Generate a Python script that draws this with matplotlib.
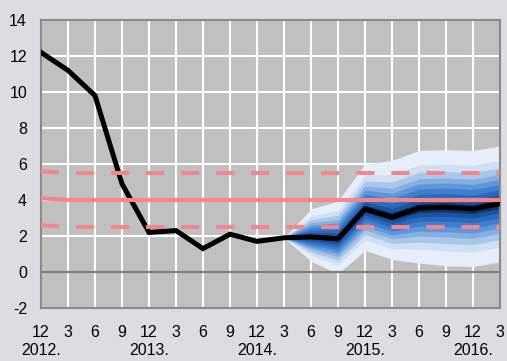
import matplotlib
matplotlib.use('Agg')
import matplotlib.pyplot as plt
import numpy as np

plt.rcParams['font.family'] = ['Liberation Sans', 'DejaVu Sans']
plt.rcParams['axes.unicode_minus'] = False

# ---- data ----
months = ['12', '3', '6', '9', '12', '3', '6', '9', '12', '3', '6', '9',
          '12', '3', '6', '9', '12', '3']
year_labels = {0: '2012.', 4: '2013.', 8: '2014.', 12: '2015.', 16: '2016.'}

inflation = [12.2, 11.2, 9.8, 4.9, 2.2, 2.3, 1.3, 2.1, 1.7,
             1.9, 1.95, 1.85, 3.5, 3.05, 3.55, 3.6, 3.5, 3.8]

target = [4.1, 4.0, 4.0, 4.0, 4.0, 4.0, 4.0, 4.0, 4.0,
          4.0, 4.0, 4.0, 4.0, 4.0, 4.0, 4.0, 4.0, 4.0]
target_upper = [5.6, 5.5, 5.5, 5.5, 5.5, 5.5, 5.5, 5.5, 5.5,
                5.5, 5.5, 5.5, 5.5, 5.5, 5.5, 5.5, 5.5, 5.5]
target_lower = [2.6, 2.5, 2.5, 2.5, 2.5, 2.5, 2.5, 2.5, 2.5,
                2.5, 2.5, 2.5, 2.5, 2.5, 2.5, 2.5, 2.5, 2.5]

# projection fan (from 2015 Q1 onward)
fan_start = 9
fan_center = [1.9, 1.95, 1.85, 3.5, 3.05, 3.55, 3.6, 3.5, 3.8]
fan_upper = [1.9, 3.5, 3.95, 6.0, 6.2, 6.75, 6.8, 6.75, 7.0]
fan_lower = [1.9, 0.6, -0.1, 1.2, 0.7, 0.5, 0.35, 0.3, 0.57]
# relative position of each band edge (outer -> inner)
fan_fracs = [1.0, 0.75, 0.62, 0.51, 0.42, 0.33, 0.24, 0.155, 0.08]
fan_colors = ['#e6eff9', '#cfe0f3', '#a9c7ea', '#85afe2', '#5f96d8',
              '#3f7fd0', '#2b69bf', '#1c52a0', '#0f3363']

# ---- figure ----
fig = plt.figure(figsize=(5.07, 3.61), dpi=100)
fig.patch.set_facecolor('#dcdde0')
ax = fig.add_axes([41 / 507, 53 / 361, 459 / 507, 288 / 361])
ax.set_facecolor('#c0c0c0')

x = np.arange(len(months))
xf = np.arange(fan_start, fan_start + len(fan_center))
c = np.array(fan_center)
up = np.array(fan_upper)
lo = np.array(fan_lower)
for f, col in zip(fan_fracs, fan_colors):
    ax.fill_between(xf, c - f * (c - lo), c + f * (up - c), color=col,
                    lw=0, zorder=2)

ax.axhline(0, color='#808080', lw=1.6, zorder=3)

ax.plot(x, inflation, color='black', lw=3.6, zorder=4,
        solid_joinstyle='miter')

pink = '#f4868a'
ax.plot(x, target, color=pink, lw=3.0, zorder=5)
for series in (target_upper, target_lower):
    ln, = ax.plot(x, series, color=pink, lw=2.9, zorder=5)
    ln.set_dashes((4.5, 4.2))

ax.set_xlim(0, 17)
ax.set_ylim(-2, 14)
ax.set_yticks(np.arange(-2, 15, 2))
ax.set_xticks(x)
labels = [m + ('\n' + year_labels[i] if i in year_labels else '')
          for i, m in enumerate(months)]
ax.set_xticklabels(labels, linespacing=1.25)

ax.grid(True, color='white', lw=1.5)
ax.set_axisbelow(True)
ax.tick_params(axis='both', length=0, labelsize=11.5, colors='black')
ax.tick_params(axis='x', pad=12)
ax.tick_params(axis='y', pad=10)
for s in ax.spines.values():
    s.set_color('#8a8a8a')
    s.set_linewidth(1.5)

fig.savefig('out.png', dpi=100, facecolor=fig.get_facecolor())
